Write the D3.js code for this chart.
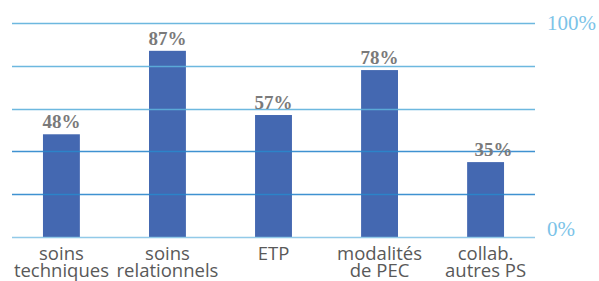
<!DOCTYPE html>
<html>
<head>
<meta charset="utf-8">
<script src="https://cdn.jsdelivr.net/npm/d3@7"></script>
<style>
  body { margin: 0; background: #fff; }
</style>
</head>
<body>
<svg id="chart"></svg>
<script>
const categories = [
  ["soins", "techniques"],
  ["soins", "relationnels"],
  ["ETP"],
  ["modalités", "de PEC"],
  ["collab.", "autres PS"],
];
const values = [48, 87, 57, 78, 35];
const gridTicks = [0, 20, 40, 60, 80, 100];
const axisLabels = [
  { value: 100, text: "100%" },
  { value: 0, text: "0%" },
];

const width = 599, height = 281;
const margin = { top: 23, right: 64, bottom: 44, left: 12 };
const innerW = width - margin.left - margin.right;
const innerH = height - margin.top - margin.bottom;

const svg = d3.select("#chart").attr("width", width).attr("height", height);
const chart = svg.append("g").attr("transform", `translate(${margin.left},${margin.top})`);

const x = d3.scaleBand().domain(d3.range(values.length)).range([0, innerW]).paddingInner(0.652).paddingOuter(0.292);
const y = d3.scaleLinear().domain([0, 100]).range([innerH, 0]);

// bars
chart.append("g").selectAll("rect").data(values).join("rect")
  .attr("x", (d, i) => x(i))
  .attr("y", d => y(d))
  .attr("width", x.bandwidth())
  .attr("height", d => innerH - y(d))
  .attr("fill", "#4468b1");

// gridlines drawn over bars
chart.append("g").selectAll("line").data(gridTicks).join("line")
  .attr("x1", 0).attr("x2", innerW)
  .attr("y1", d => Math.round(y(d)) + 0.5).attr("y2", d => Math.round(y(d)) + 0.5)
  .attr("stroke", d => d === 0 ? "#86c4e6" : (d >= 60 ? "#5db0dc" : "#2a86cc"))
  .attr("stroke-opacity", 0.9)
  .attr("stroke-width", 1.6);

// value labels
chart.append("g").selectAll("text").data(values).join("text")
  .attr("x", (d, i) => x(i) + x.bandwidth() / 2 + (i === values.length - 1 ? 8 : 0))
  .attr("y", d => y(d) - 6)
  .attr("text-anchor", "middle")
  .attr("font-family", "'Liberation Serif', 'DejaVu Serif', serif")
  .attr("font-weight", "bold")
  .attr("font-size", 19)
  .attr("fill", "#7a7a7a")
  .text(d => d + "%");

// right side labels
chart.append("g").selectAll("text").data(axisLabels).join("text")
  .attr("x", innerW + 12)
  .attr("y", d => y(d.value) + (d.value === 0 ? -1 : 7))
  .attr("font-family", "'Liberation Serif', 'DejaVu Serif', serif")
  .attr("font-size", 21)
  .attr("fill", "#7cc3e8")
  .text(d => d.text);

// category labels, one text per line
const catLines = categories.flatMap((lines, i) => lines.map((t, j) => ({ t, i, j })));
chart.append("g").selectAll("text").data(catLines).join("text")
  .attr("x", d => x(d.i) + x.bandwidth() / 2)
  .attr("y", d => innerH + 23 + d.j * 17)
  .attr("text-anchor", "middle")
  .attr("font-family", "'Open Sans', sans-serif")
  .attr("font-size", 18.5)
  .attr("fill", "#595959")
  .text(d => d.t);
</script>
</body>
</html>
